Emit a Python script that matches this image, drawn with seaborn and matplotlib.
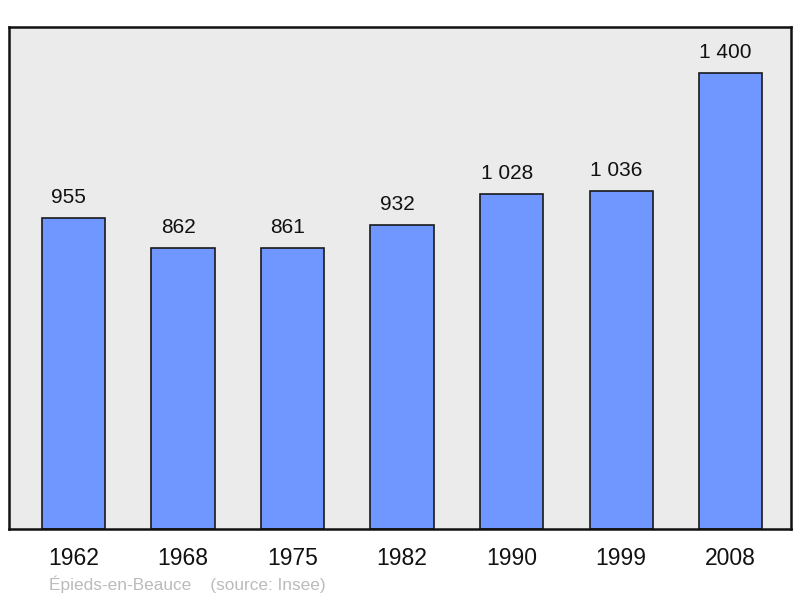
import matplotlib.pyplot as plt
import seaborn as sns
import pandas as pd

plt.switch_backend('Agg')

years = ["1962", "1968", "1975", "1982", "1990", "1999", "2008"]
population = [955, 862, 861, 932, 1028, 1036, 1400]
value_labels = ["955", "862", "861", "932", "1 028", "1 036", "1 400"]
commune = "Épieds-en-Beauce"
source = "(source: Insee)"

sns.set_style("white")
plt.rcParams['font.family'] = ['Liberation Sans', 'DejaVu Sans']

df = pd.DataFrame({"year": years, "population": population})

fig = plt.figure(figsize=(8, 5.98), dpi=100)
ax = fig.add_axes([0.011, 0.1154, 0.978, 0.8395])
ax.set_facecolor("#ebebeb")

sns.barplot(data=df, x="year", y="population", color="#7097ff", saturation=1,
            width=0.576, edgecolor="#1a1a1a", linewidth=1.2, ax=ax)

# labels sit a little left of the bar centre in the original
for i, (v, lab) in enumerate(zip(population, value_labels)):
    ax.text(i - 0.045, v + 34, lab, ha="center", va="bottom", fontsize=15, color="#111111")

ax.set_xlim(-0.59, 6.553)
ax.set_ylim(0, 1541)
ax.set_yticks([])
ax.set_xlabel("")
ax.set_ylabel("")
ax.tick_params(axis="x", length=0, labelsize=16.5, pad=13, colors="#111111")
for s in ax.spines.values():
    s.set_visible(True)
    s.set_color("#111111")
    s.set_linewidth(1.8)

fig.text(49 / 800, 1 - 584 / 598, commune + "    " + source, fontsize=12.4,
         color="#bbbbbb", ha="left", va="center")

plt.savefig("out.png", dpi=100)
plt.close('all')
